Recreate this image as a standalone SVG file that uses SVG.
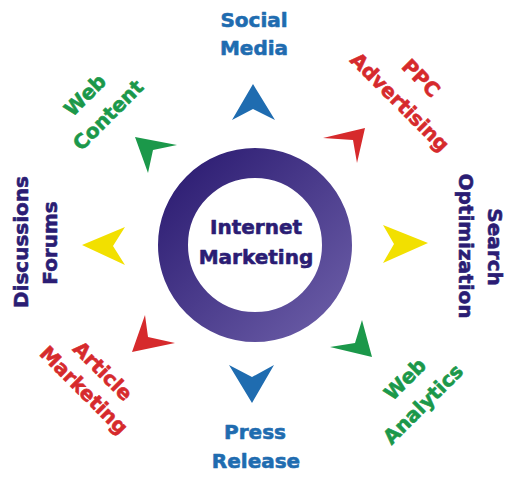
<svg xmlns="http://www.w3.org/2000/svg" width="520" height="480" viewBox="0 0 520 480">
<defs>
<linearGradient id="ringGrad" x1="0" y1="0" x2="1" y2="1">
<stop offset="0" stop-color="#2c1c72"/>
<stop offset="1" stop-color="#6a5ca6"/>
</linearGradient>
<style>
text{font-family:"DejaVu Sans","Liberation Sans",sans-serif;font-weight:bold;font-size:20px;text-anchor:middle;stroke-width:0.6px;stroke-linejoin:round}
.navy{fill:#2b1d74;stroke:#2b1d74}
.blue{fill:#1f6cb0;stroke:#1f6cb0}
.red{fill:#d62a2c;stroke:#d62a2c}
.green{fill:#1b984a;stroke:#1b984a}
.ablue{fill:#1f6cb0}
.ared{fill:#d62a2c}
.agreen{fill:#1b984a}
.ayellow{fill:#f2e000}
</style>
</defs>
<rect width="520" height="480" fill="#ffffff"/>
<g id="center">
<circle cx="255" cy="245" r="82" fill="none" stroke="url(#ringGrad)" stroke-width="30"/>
<text class="navy" x="256" y="234">Internet</text>
<text class="navy" x="256" y="264">Marketing</text>
</g>
<g id="connectors">
<polygon class="ablue" points="253,84 275,120 253,109 232,120"/>
<polygon class="ablue" points="229,365 252,377 274,365 252,403"/>
<polygon class="ayellow" points="383,225 428,243 383,263 394,244"/>
<polygon class="ayellow" points="82,245 125,227 113,246 125,265"/>
<polygon class="agreen" points="135,137 177,145 153,150 148,173"/>
<polygon class="ared" points="365,128 357,163 353,140 323,138"/>
<polygon class="ared" points="132,352 145,315 148,337 175,343"/>
<polygon class="agreen" points="372,357 330,347 355,343 362,320"/>
</g>
<g id="social-media">
<text class="blue" x="254" y="27">Social</text>
<text class="blue" x="254" y="55">Media</text>
</g>
<g id="press-release">
<text class="blue" x="255" y="439">Press</text>
<text class="blue" x="256" y="468">Release</text>
</g>
<g id="search-optimization">
<text class="navy" transform="translate(488,247) rotate(90)">Search</text>
<text class="navy" transform="translate(459,246) rotate(90)">Optimization</text>
</g>
<g id="discussions-forums">
<text class="navy" transform="translate(28,242) rotate(-90)">Discussions</text>
<text class="navy" transform="translate(57,243) rotate(-90)">Forums</text>
</g>
<g id="web-content">
<text class="green" transform="translate(90,100) rotate(-45)">Web</text>
<text class="green" transform="translate(113,120) rotate(-45)">Content</text>
</g>
<g id="ppc-advertising">
<text class="red" transform="translate(416,83) rotate(45)">PPC</text>
<text class="red" transform="translate(395,107) rotate(45)">Advertising</text>
</g>
<g id="article-marketing">
<text class="red" transform="translate(98,376) rotate(45)">Article</text>
<text class="red" transform="translate(79,395) rotate(45)">Marketing</text>
</g>
<g id="web-analytics">
<text class="green" transform="translate(410,384) rotate(-45)">Web</text>
<text class="green" transform="translate(428,409) rotate(-45)">Analytics</text>
</g>
</svg>
